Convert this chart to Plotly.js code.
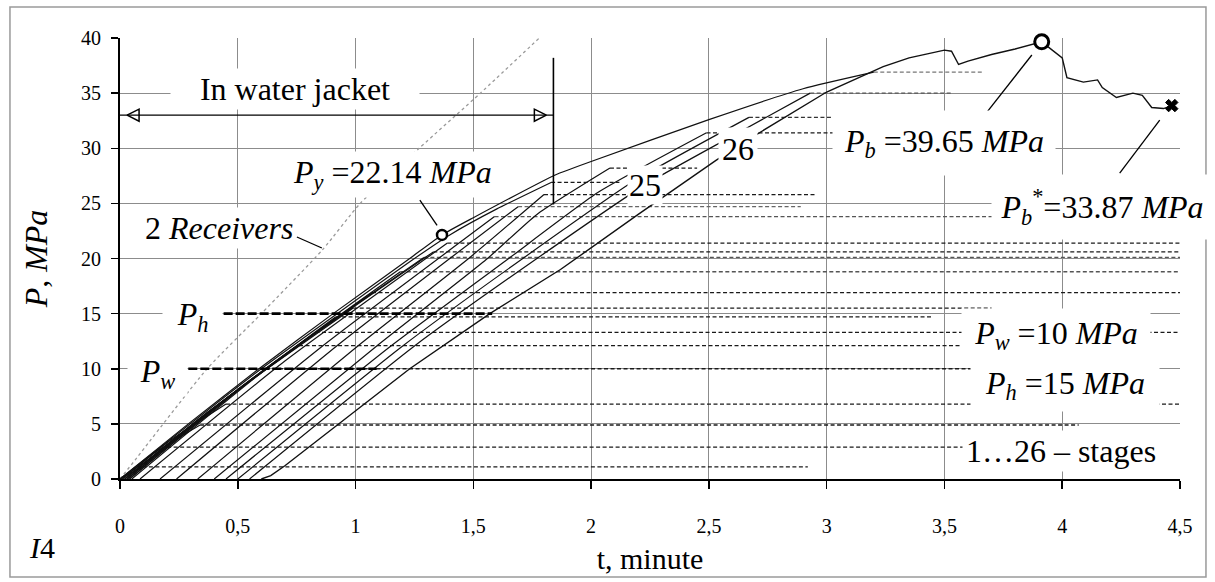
<!DOCTYPE html>
<html>
<head>
<meta charset="utf-8">
<script src="https://cdn.plot.ly/plotly-3.0.1.min.js"></script>
<style>
  html, body { margin: 0; padding: 0; background: #ffffff; }
  #chart { width: 1215px; height: 582px; }
</style>
</head>
<body>
<div id="chart"></div>
<script>
// ---- axis ticks (decimal comma) ----
const timeTicks = [0, 0.5, 1, 1.5, 2, 2.5, 3, 3.5, 4, 4.5];
const timeTickText = ['0', '0,5', '1', '1,5', '2', '2,5', '3', '3,5', '4', '4,5'];
const pressureTicks = [0, 5, 10, 15, 20, 25, 30, 35, 40];

// ---- characteristic pressures, MPa ----
const yieldTime = 1.367, yieldPressure = 22.14;
const burstTime = 3.913, burstPressure = 39.65;
const residualTime = 4.465, residualPressure = 33.87;
const waterPressure = 10;   // P_w
const hydroPressure = 15;   // P_h
const waterDashTime = [0.29, 1.09];
const hydroDashTime = [0.44, 1.58];

// ---- water jacket interval ----
const jacketEndTime = 1.84;
const jacketArrowPressure = 33.0;
const jacketMarkPressure = [24.9, 38.2];

// ---- two receivers ----
const receiversTime = [0, 0.064, 0.37, 0.6, 0.86, 1.02, 1.27, 1.53, 1.78];
const receiversPressure = [0, 1.72, 10, 15, 20.8, 25, 30, 35, 40];

// ---- loading stages: time (min) and pressure (MPa) along each ramp ----
const stageTime = [
  [0, 0.095],
  [0, 0.1, 0.2],
  [0.01, 0.152, 0.34],
  [0.01, 0.207, 0.45],
  [0.02, 0.309, 0.62],
  [0.02, 0.371, 0.76],
  [0.02, 0.41, 0.83],
  [0.03, 0.454, 0.915],
  [0.03, 0.48, 0.99],
  [0.03, 0.52, 1.07],
  [0.04, 0.58, 1.19],
  [0.04, 0.62, 1.29],
  [0.05, 0.64, 1.33],
  [0.085, 0.70, 1.39],
  [0.17, 0.856, 1.59],
  [0.24, 0.916, 1.40, 1.69],
  [0.33, 1.006, 1.48, 1.80],
  [0, 0.6, 1.25, 1.40, 1.6, 1.83],
  [0.40, 1.086, 1.56, 1.77, 2.08],
  [0.45, 1.146, 1.65, 2.03, 2.49],
  [0.50, 1.196, 1.71, 2.18, 2.67],
  [0.55, 1.246, 1.77, 2.23, 2.59, 2.93],
  [0, 0.29, 0.59, 0.905, 1.23, 1.367, 1.5, 1.85, 2.0, 2.5, 2.9, 3.2]
];
const stagePressure = [
  [0, 1.1],
  [0, 1.45, 2.9],
  [0, 2.45, 4.9],
  [0, 3.4, 6.8],
  [0, 5, 10],
  [0, 6.05, 12.1],
  [0, 6.65, 13.3],
  [0, 7.35, 14.7],
  [0, 7.75, 15.5],
  [0, 8.45, 16.9],
  [0, 9.4, 18.8],
  [0, 10.05, 20.1],
  [0, 10.3, 20.6],
  [0, 10.7, 21.4],
  [0, 12, 23.8],
  [0, 12, 20, 24.7],
  [0, 12, 20, 25.8],
  [0, 10, 20, 22.14, 24.5, 26.9],
  [0, 12, 20, 24, 28.2],
  [0, 12, 20, 26, 31.4],
  [0, 12, 20, 27, 32.8],
  [0, 12, 20, 26.7, 31, 35.0],
  [0, 5, 10, 15, 20, 22.14, 23.7, 27.6, 28.8, 32.6, 35.4, 36.9]
];
// end of the pressure hold after each ramp (min)
const holdEndTime = [2.92, 3.75, 4.07, 4.5, 3.7, 3.7, 4.5, 3.45, 3.7, 4.5, 4.5, 4.5,
                     4.5, 4.5, 3.75, 2.89, 2.95, 2.12, 2.45, 3.03, 3.34, 3.53, 3.66];
const holdColor = ['#1a1a1a', '#1a1a1a', '#1a1a1a', '#1a1a1a', '#1a1a1a', '#1a1a1a',
                   '#1a1a1a', '#1a1a1a', '#1a1a1a', '#1a1a1a', '#555555', '#555555',
                   '#1a1a1a', '#1a1a1a', '#555555', '#666666', '#1a1a1a', '#1a1a1a',
                   '#1a1a1a', '#1a1a1a', '#333333', '#555555', '#777777'];

// ---- last stage: ramp to burst and drop to residual pressure ----
const burstStageTime = [0.60, 0.64, 0.70, 1.23, 1.57, 1.87, 2.2, 2.53, 2.66, 3.0, 3.24, 3.35,
  3.5, 3.53, 3.56, 3.6, 3.7, 3.8, burstTime, 3.96, 4.0, 4.02, 4.09, 4.15, 4.17, 4.23,
  4.30, 4.34, 4.38, 4.43, residualTime];
const burstStagePressure = [0, 0.3, 1.2, 10, 15, 19, 24, 28.9, 30.7, 35.1, 37.4, 38.2,
  38.9, 38.8, 37.6, 37.9, 38.5, 39.0, burstPressure, 38.9, 38.2, 36.4, 36.0, 36.2, 35.5, 34.6,
  35.0, 34.8, 33.7, 33.6, residualPressure];

// ---------------------------------------------------------------
const traces = [];

traces.push({
  x: receiversTime, y: receiversPressure, mode: 'lines',
  line: { color: '#9a9a9a', width: 1.3, dash: 'dot', shape: 'spline', smoothing: 0.6 },
  hoverinfo: 'skip'
});

stageTime.forEach((ts, i) => {
  const ps = stagePressure[i];
  const tEnd = ts[ts.length - 1], pEnd = ps[ps.length - 1];
  traces.push({
    x: [tEnd, holdEndTime[i]], y: [pEnd, pEnd], mode: 'lines',
    line: { color: holdColor[i], width: 1.3, dash: '4px,2.5px' }, hoverinfo: 'skip'
  });
  traces.push({
    x: ts, y: ps, mode: 'lines',
    line: { color: '#111111', width: 1.2, shape: 'spline', smoothing: 0.5 }, hoverinfo: 'skip'
  });
});

traces.push({
  x: burstStageTime, y: burstStagePressure, mode: 'lines',
  line: { color: '#111111', width: 1.4 }, hoverinfo: 'skip'
});

// P_w and P_h levels
traces.push({
  x: waterDashTime, y: [waterPressure, waterPressure], mode: 'lines',
  line: { color: '#000000', width: 2.6, dash: '9px,3px' }, hoverinfo: 'skip'
});
traces.push({
  x: hydroDashTime, y: [hydroPressure, hydroPressure], mode: 'lines',
  line: { color: '#000000', width: 2.6, dash: '9px,3px' }, hoverinfo: 'skip'
});

// water jacket interval with arrow heads at both ends
traces.push({
  x: [0, jacketEndTime], y: [jacketArrowPressure, jacketArrowPressure], mode: 'lines',
  line: { color: '#000000', width: 1.3 }, hoverinfo: 'skip', cliponaxis: false
});
traces.push({
  x: [0.03, jacketEndTime - 0.03], y: [jacketArrowPressure, jacketArrowPressure], mode: 'markers',
  marker: { symbol: ['arrow-left-open', 'arrow-right-open'], size: 12, color: '#000000',
            line: { color: '#000000', width: 1.5 } },
  hoverinfo: 'skip', cliponaxis: false
});
traces.push({
  x: [jacketEndTime, jacketEndTime], y: jacketMarkPressure, mode: 'lines',
  line: { color: '#000000', width: 1.6 }, hoverinfo: 'skip'
});

// characteristic points
traces.push({
  x: [yieldTime], y: [yieldPressure], mode: 'markers', cliponaxis: false,
  marker: { symbol: 'circle', size: 10, color: '#ffffff', line: { color: '#000000', width: 2.5 } },
  hoverinfo: 'skip'
});
traces.push({
  x: [burstTime], y: [burstPressure], mode: 'markers', cliponaxis: false,
  marker: { symbol: 'circle', size: 14, color: '#ffffff', line: { color: '#000000', width: 3 } },
  hoverinfo: 'skip'
});
traces.push({
  x: [residualTime], y: [residualPressure], mode: 'markers', cliponaxis: false,
  marker: { symbol: 'x', size: 11, color: '#000000', line: { color: '#000000', width: 1 } },
  hoverinfo: 'skip'
});

// ---------------------------------------------------------------
const serif = 'Liberation Serif, Times New Roman, serif';
const txt = (text, x, y, extra) => Object.assign({
  text, x, y, xref: 'x', yref: 'y', xanchor: 'center', yanchor: 'middle', showarrow: false,
  font: { family: serif, size: 32, color: '#000000' },
  bgcolor: '#ffffff', borderpad: 2
}, extra || {});

const annotations = [
  txt('In water jacket', 0.745, 35.4, { width: 244 }),
  txt('<i>P</i><sub><i>y</i></sub> =' + yieldPressure.toFixed(2) + ' <i>MPa</i>', 1.155, 27.6),
  txt('2 <i>Receivers</i>', 0.42, 22.8),
  txt('<i>P</i><sub><i>h</i></sub>', 0.306, 14.7, { width: 55 }),
  txt('<i>P</i><sub><i>w</i></sub>', 0.16, 9.6, { width: 55 }),
  txt('25', 2.228, 26.67, { borderpad: 1 }),
  txt('26', 2.623, 29.9, { borderpad: 3 }),
  txt('<i>P</i><sub><i>b</i></sub> =' + burstPressure.toFixed(2) + ' <i>MPa</i>', 3.497, 30.5,
      { width: 218, height: 60 }),
  txt('<i>P</i><sub><i>b</i></sub><sup>*</sup>=' + residualPressure.toFixed(2) + ' <i>MPa</i>', 4.17, 24.7,
      { width: 216, height: 60 }),
  txt('<i>P</i><sub><i>w</i></sub> =' + waterPressure + ' <i>MPa</i>', 3.975, 13.1,
      { width: 184, height: 48 }),
  txt('<i>P</i><sub><i>h</i></sub> =' + hydroPressure + ' <i>MPa</i>', 4.01, 8.5,
      { width: 184, height: 48 }),
  txt('1…26 – stages', 3.995, 2.55, { width: 192, height: 36 }),
  { text: '<i>I</i>4', xref: 'paper', yref: 'paper', x: -0.0736, y: -0.156,
    xanchor: 'center', yanchor: 'middle', showarrow: false,
    font: { family: serif, size: 30, color: '#000000' } }
];

// leader lines from the labels to their curves
const leaderLine = (x0, y0, x1, y1) => ({
  type: 'line', xref: 'x', yref: 'y', x0, y0, x1, y1,
  line: { color: '#000000', width: 1.3 }, layer: 'above'
});

const layout = {
  width: 1215, height: 582,
  margin: { l: 120, r: 35, t: 38, b: 103 },
  paper_bgcolor: '#ffffff', plot_bgcolor: '#ffffff',
  showlegend: false,
  xaxis: {
    range: [0, 4.5], tickvals: timeTicks, ticktext: timeTickText,
    showgrid: true, gridcolor: '#8c8c8c', gridwidth: 1.2, zeroline: false,
    showline: true, linecolor: '#000000', linewidth: 2,
    ticks: 'outside', ticklen: 8, tickwidth: 1.5, tickcolor: '#000000',
    ticklabelstandoff: 20,
    tickfont: { family: serif, size: 20, color: '#000000' },
    title: { text: 't, minute', font: { family: serif, size: 30, color: '#000000' }, standoff: 12 }
  },
  yaxis: {
    range: [0, 40], tickvals: pressureTicks,
    showgrid: true, gridcolor: '#8c8c8c', gridwidth: 1.2, zeroline: false,
    showline: true, linecolor: '#000000', linewidth: 2,
    ticks: 'outside', ticklen: 7, tickwidth: 1.5, tickcolor: '#000000',
    ticklabelstandoff: 6,
    tickfont: { family: serif, size: 20, color: '#000000' },
    title: { text: '<i>P</i>, <i>MPa</i>', font: { family: serif, size: 32, color: '#000000' }, standoff: 24 }
  },
  shapes: [
    { type: 'rect', xref: 'paper', yref: 'paper', x0: -0.1038, x1: 1.0245, y0: -0.2222, y1: 1.0703,
      line: { color: '#9a9a9a', width: 1.5 }, layer: 'below' },
    leaderLine(1.273, 25.3, 1.346, 23.0),
    leaderLine(0.751, 21.95, 0.857, 20.95),
    leaderLine(3.663, 32.8, 3.871, 38.46),
    leaderLine(4.244, 27.75, 4.414, 32.56)
  ],
  annotations
};

Plotly.newPlot('chart', traces, layout, { staticPlot: true, displayModeBar: false });
</script>
</body>
</html>
